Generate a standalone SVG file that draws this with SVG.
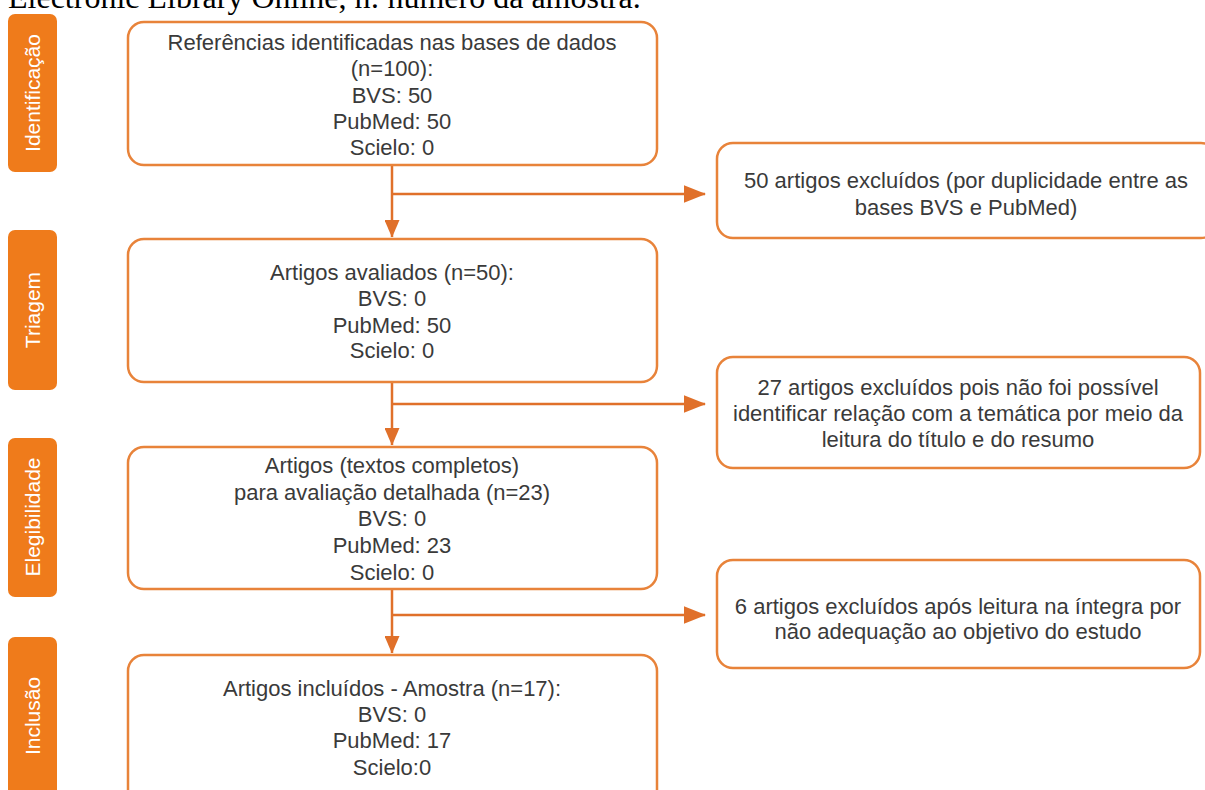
<svg xmlns="http://www.w3.org/2000/svg" width="1205" height="790" viewBox="0 0 1205 790">
<style>
.bg{fill:#ffffff}
.lab{fill:#EF7B1B}
.labt{fill:#ffffff;font-family:"Liberation Sans",Arial,sans-serif;font-size:21px;text-anchor:middle}
.box{fill:#ffffff;stroke:#E8833A;stroke-width:2.5}
.t{fill:#3a3a3a;font-family:"Liberation Sans",Arial,sans-serif;font-size:22px;text-anchor:middle}
.cap{fill:#000000;font-family:"Liberation Serif","Times New Roman",serif;font-size:32px}
.ln{stroke:#E0702A;stroke-width:2.5;fill:none}
.ah{fill:#E0702A}
</style>
<defs>
<marker id="arr" markerWidth="9" markerHeight="7" refX="8.5" refY="3.5" orient="auto" markerUnits="strokeWidth">
<path d="M0,0 L9,3.5 L0,7 Z" class="ah"/>
</marker>
<marker id="arrd" markerWidth="7" markerHeight="6" refX="6.8" refY="3" orient="auto" markerUnits="strokeWidth">
<path d="M0,0 L7,3 L0,6 Z" class="ah"/>
</marker>
</defs>
<rect class="bg" x="0" y="0" width="1205" height="790"/>
<text class="cap" x="8" y="7.5">Electronic Library Online, n: número da amostra.</text>

<g id="label-identificacao">
<rect class="lab" x="8" y="14" width="49" height="158" rx="7"/>
<text class="labt" transform="translate(40,93) rotate(-90)">Identificação</text>
</g>
<g id="label-triagem">
<rect class="lab" x="8" y="230" width="49" height="160" rx="7"/>
<text class="labt" transform="translate(40,310) rotate(-90)">Triagem</text>
</g>
<g id="label-elegibilidade">
<rect class="lab" x="8" y="438" width="49" height="159" rx="7"/>
<text class="labt" transform="translate(40,517) rotate(-90)">Elegibilidade</text>
</g>
<g id="label-inclusao">
<rect class="lab" x="8" y="637" width="49" height="170" rx="7"/>
<text class="labt" transform="translate(40,716) rotate(-90)">Inclusão</text>
</g>

<g id="connectors">
<line class="ln" x1="392" y1="165" x2="392" y2="237" marker-end="url(#arrd)"/>
<line class="ln" x1="392" y1="194" x2="705" y2="194" marker-end="url(#arr)"/>
<line class="ln" x1="392" y1="382" x2="392" y2="445" marker-end="url(#arrd)"/>
<line class="ln" x1="392" y1="404" x2="705" y2="404" marker-end="url(#arr)"/>
<line class="ln" x1="392" y1="589" x2="392" y2="653" marker-end="url(#arrd)"/>
<line class="ln" x1="392" y1="615" x2="705" y2="615" marker-end="url(#arr)"/>
</g>

<g id="node-identificadas">
<rect class="box" x="128" y="22" width="529" height="143" rx="16"/>
<text class="t" x="392" y="50">Referências identificadas nas bases de dados</text>
<text class="t" x="392" y="76">(n=100):</text>
<text class="t" x="392" y="103">BVS: 50</text>
<text class="t" x="392" y="129">PubMed: 50</text>
<text class="t" x="392" y="155">Scielo: 0</text>
</g>
<g id="node-avaliados">
<rect class="box" x="128" y="239" width="529" height="143" rx="16"/>
<text class="t" x="392" y="280">Artigos avaliados (n=50):</text>
<text class="t" x="392" y="306">BVS: 0</text>
<text class="t" x="392" y="333">PubMed: 50</text>
<text class="t" x="392" y="358">Scielo: 0</text>
</g>
<g id="node-completos">
<rect class="box" x="128" y="447" width="529" height="142" rx="16"/>
<text class="t" x="392" y="473">Artigos (textos completos)</text>
<text class="t" x="392" y="500">para avaliação detalhada (n=23)</text>
<text class="t" x="392" y="526">BVS: 0</text>
<text class="t" x="392" y="553">PubMed: 23</text>
<text class="t" x="392" y="580">Scielo: 0</text>
</g>
<g id="node-incluidos">
<rect class="box" x="128" y="655" width="529" height="160" rx="16"/>
<text class="t" x="392" y="696">Artigos incluídos - Amostra (n=17):</text>
<text class="t" x="392" y="722">BVS: 0</text>
<text class="t" x="392" y="748">PubMed: 17</text>
<text class="t" x="392" y="775">Scielo:0</text>
</g>

<g id="node-excl-duplicidade">
<rect class="box" x="717" y="143" width="500" height="95" rx="16"/>
<text class="t" x="966" y="188">50 artigos excluídos (por duplicidade entre as</text>
<text class="t" x="966" y="215">bases BVS e PubMed)</text>
</g>
<g id="node-excl-tematica">
<rect class="box" x="717" y="357" width="483" height="111" rx="16"/>
<text class="t" x="958" y="395">27 artigos excluídos pois não foi possível</text>
<text class="t" x="958" y="421">identificar relação com a temática por meio da</text>
<text class="t" x="958" y="447">leitura do título e do resumo</text>
</g>
<g id="node-excl-integra">
<rect class="box" x="717" y="560" width="483" height="108" rx="16"/>
<text class="t" x="958" y="614">6 artigos excluídos após leitura na íntegra por</text>
<text class="t" x="958" y="639">não adequação ao objetivo do estudo</text>
</g>
</svg>
